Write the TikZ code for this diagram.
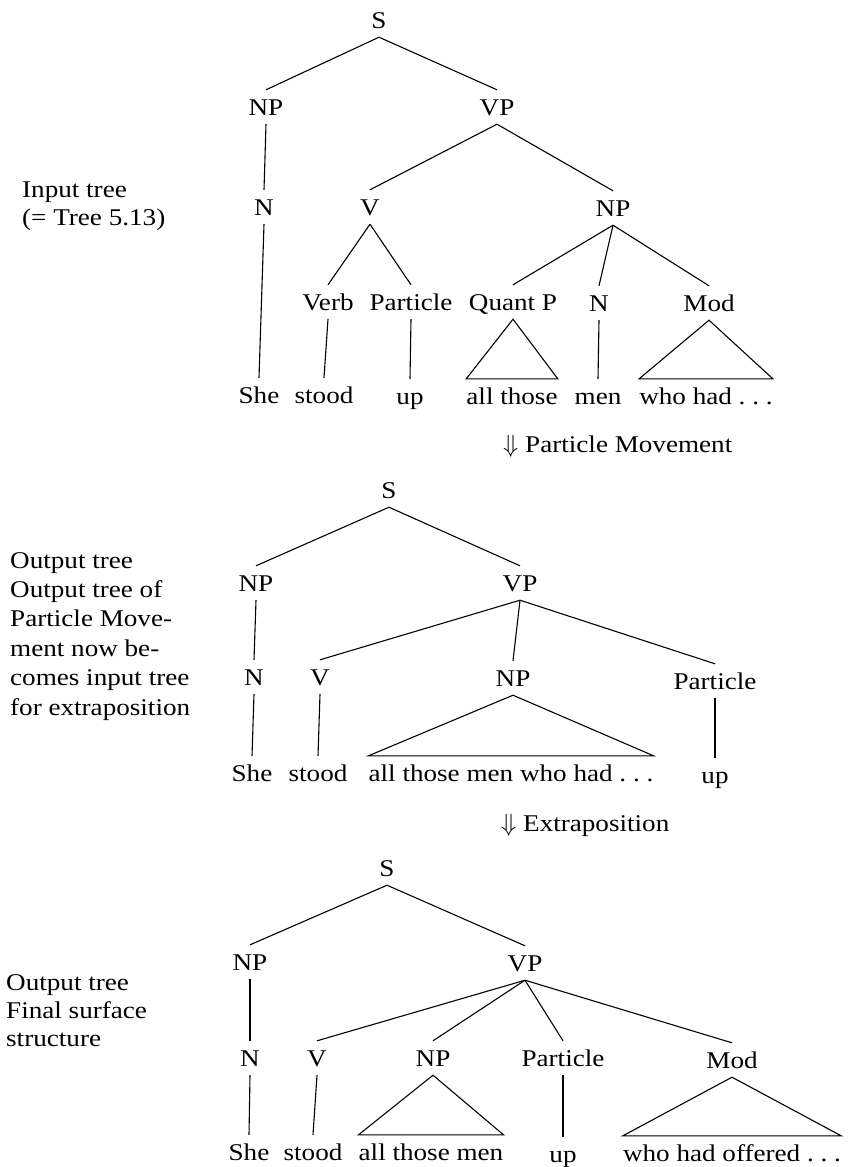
\documentclass[tikz,border=0pt]{standalone}
\usepackage{fontspec}
\setmainfont{Liberation Serif}[FakeStretch=1.13]
\begin{document}
\frenchspacing
\begin{tikzpicture}[x=1pt,y=-1pt,
  lab/.style={anchor=base, inner xsep=0pt, inner ysep=9pt, text height=16pt, text depth=0pt, font=\fontsize{24}{29}\selectfont},
  side/.style={anchor=base west, inner sep=0pt, font=\fontsize{24}{29}\selectfont},
  edge/.style={line width=1.1pt}]
\useasboundingbox (0,0) rectangle (849,1167);

% ---------- Tree 1 ----------
\node[lab] (aS) at (379,28) {S};
\node[lab] (aNP) at (266,115) {NP};
\node[lab] (aVP) at (497,115) {VP};
\node[lab] (aN) at (264,215) {N};
\node[lab] (aV) at (370,215) {V};
\node[lab] (aNPb) at (613,216) {NP};
\node[lab] (aVerb) at (328,310) {Verb};
\node[lab] (aPart) at (411,310) {Particle};
\node[lab] (aQ) at (513,310) {Quant P};
\node[lab] (aNn) at (599,311) {N};
\node[lab] (aMod) at (709,311) {Mod};
\node[lab] (aShe) at (259,403) {She};
\node[lab] (aStood) at (324,403) {stood};
\node[lab] (aUp) at (410,404) {up};
\node[lab] (aAll) at (512,404) {all those};
\node[lab] (aMen) at (598,404) {men};
\node[lab] (aWho) at (706,404) {who had . . .};

\draw[edge] (aS.south) -- (aNP.north);
\draw[edge] (aS.south) -- (aVP.north);
\draw[edge] (aNP.south) -- (aN.north);
\draw[edge] (aN.south) -- (aShe.north);
\draw[edge] (aVP.south) -- (aV.north);
\draw[edge] (aVP.south) -- (aNPb.north);
\draw[edge] (aV.south) -- (aVerb.north);
\draw[edge] (aV.south) -- (aPart.north);
\draw[edge] (aNPb.south) -- (aQ.north);
\draw[edge] (aNPb.south) -- (aNn.north);
\draw[edge] (aNPb.south) -- (aMod.north);
\draw[edge] (aVerb.south) -- (aStood.north);
\draw[edge] (aPart.south) -- (aUp.north);
\draw[edge] (aNn.south) -- (aMen.north);
\draw[edge] (aQ.south) -- (aAll.north west) -- (aAll.north east) -- cycle;
\draw[edge] (aMod.south) -- (aWho.north west) -- (aWho.north east) -- cycle;

\node[side] (t1a) at (22,197) {Input tree};
\node[side] (t1b) at (22,225) {(= Tree 5.13)};

\node[side] (m1) at (503,452) {$\Downarrow$\ Particle Movement};

% ---------- Tree 2 ----------
\node[lab] (bS) at (389,498) {S};
\node[lab] (bNP) at (256,591) {NP};
\node[lab] (bVP) at (520,591) {VP};
\node[lab] (bN) at (254,685) {N};
\node[lab] (bV) at (320,685) {V};
\node[lab] (bNPb) at (513,686) {NP};
\node[lab] (bPart) at (715,689) {Particle};
\node[lab] (bShe) at (252,781) {She};
\node[lab] (bStood) at (318,781) {stood};
\node[lab] (bAll) at (511,781) {all those men who had . . .};
\node[lab] (bUp) at (715,783) {up};

\draw[edge] (bS.south) -- (bNP.north);
\draw[edge] (bS.south) -- (bVP.north);
\draw[edge] (bNP.south) -- (bN.north);
\draw[edge] (bN.south) -- (bShe.north);
\draw[edge] (bVP.south) -- (bV.north);
\draw[edge] (bVP.south) -- (bNPb.north);
\draw[edge] (bVP.south) -- (bPart.north);
\draw[edge] (bV.south) -- (bStood.north);
\draw[edge] (bPart.south) -- (bUp.north);
\draw[edge] (bNPb.south) -- (bAll.north west) -- (bAll.north east) -- cycle;

\node[side] (t2a) at (10,568) {Output tree};
\node[side] (t2b) at (10,597) {Output tree of};
\node[side] (t2c) at (10,626) {Particle Move-};
\node[side] (t2d) at (10,656) {ment now be-};
\node[side] (t2e) at (10,685) {comes input tree};
\node[side] (t2f) at (10,715) {for extraposition};

\node[side] (m2) at (501,831) {$\Downarrow$\ Extraposition};

% ---------- Tree 3 ----------
\node[lab] (cS) at (387,876) {S};
\node[lab] (cNP) at (250,970) {NP};
\node[lab] (cVP) at (525,971) {VP};
\node[lab] (cN) at (250,1066) {N};
\node[lab] (cV) at (317,1066) {V};
\node[lab] (cNPb) at (433,1066) {NP};
\node[lab] (cPart) at (563,1066) {Particle};
\node[lab] (cMod) at (732,1068) {Mod};
\node[lab] (cShe) at (249,1160) {She};
\node[lab] (cStood) at (313,1160) {stood};
\node[lab] (cAll) at (431,1160) {all those men};
\node[lab] (cUp) at (563,1162) {up};
\node[lab] (cWho) at (732,1161) {who had offered . . .};

\draw[edge] (cS.south) -- (cNP.north);
\draw[edge] (cS.south) -- (cVP.north);
\draw[edge] (cNP.south) -- (cN.north);
\draw[edge] (cN.south) -- (cShe.north);
\draw[edge] (cVP.south) -- (cV.north);
\draw[edge] (cVP.south) -- (cNPb.north);
\draw[edge] (cVP.south) -- (cPart.north);
\draw[edge] (cVP.south) -- (cMod.north);
\draw[edge] (cV.south) -- (cStood.north);
\draw[edge] (cPart.south) -- (cUp.north);
\draw[edge] (cNPb.south) -- (cAll.north west) -- (cAll.north east) -- cycle;
\draw[edge] (cMod.south) -- (cWho.north west) -- (cWho.north east) -- cycle;

\node[side] (t3a) at (6,990) {Output tree};
\node[side] (t3b) at (6,1018) {Final surface};
\node[side] (t3c) at (6,1046) {structure};
\end{tikzpicture}
\end{document}
